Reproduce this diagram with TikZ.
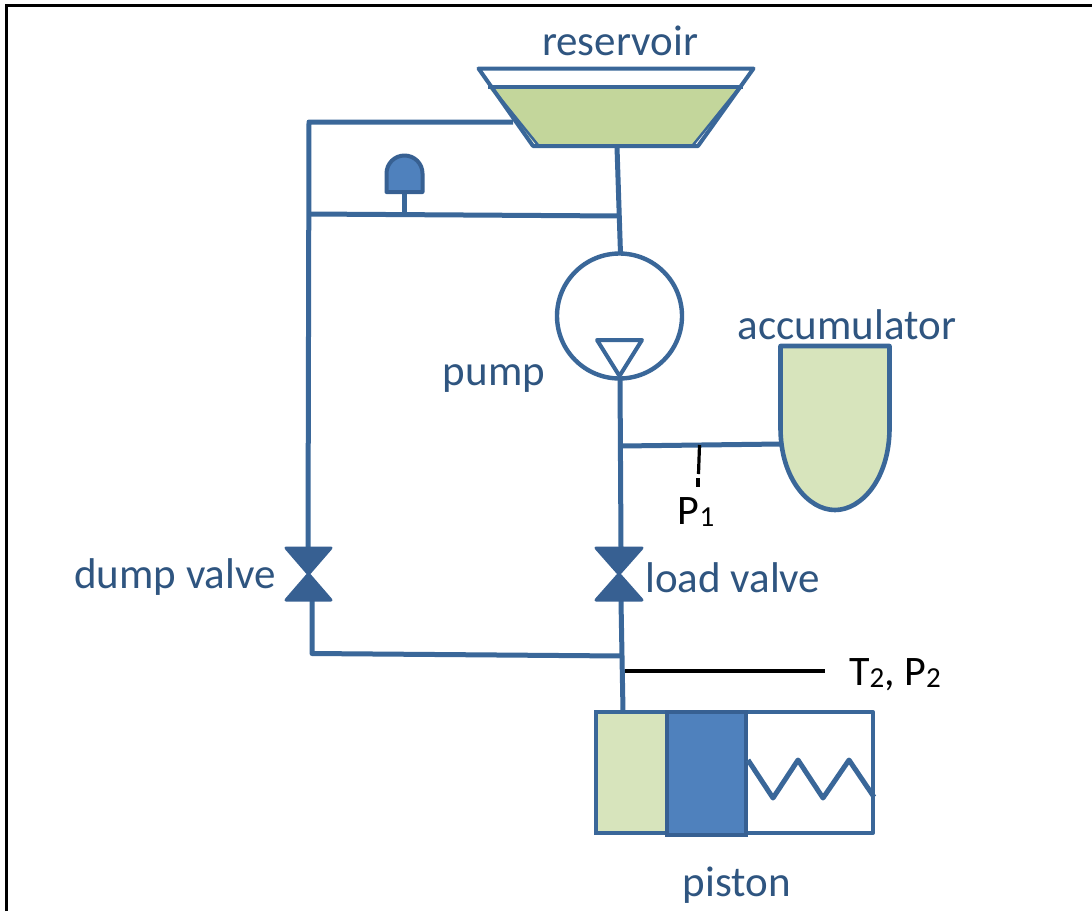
\documentclass[tikz,border=0pt]{standalone}
\usepackage{fontspec}
\setmainfont{Carlito}
\definecolor{pipe}{HTML}{3A6799}
\definecolor{txt}{HTML}{2F5580}
\definecolor{water}{HTML}{C3D69B}
\definecolor{pale}{HTML}{D7E4BC}
\definecolor{solid}{HTML}{4F81BD}
\definecolor{valvec}{HTML}{376092}
\tikzset{
  pipeline/.style={draw=pipe,line width=5pt,line join=round},
  thin pipe/.style={draw=pipe,line width=4pt,line join=round},
  signal/.style={draw=black,line width=3.2pt},
  lab/.style={text=txt,font=\fontsize{43}{46}\selectfont,inner sep=0pt},
  sig lab/.style={text=black,font=\fontsize{42}{46}\selectfont,inner sep=0pt},
  valveshape/.style={fill=valvec,draw=valvec,line width=3pt,line join=round},
}
\newcommand{\lowsub}[1]{\raisebox{-2pt}{\fontsize{29}{32}\selectfont #1}}
\begin{document}
\begin{tikzpicture}[x=1pt,y=-1pt]
\useasboundingbox (0,0) rectangle (1092,911);
\fill[white] (0,0) rectangle (1092,911);
% frame
\draw[black,line width=3pt] (6.5,911) -- (6.5,5.5) -- (1092,5.5);
% junction and end coordinates
\coordinate (resL) at (513,122);
\coordinate (resB) at (617,147);
\coordinate (cornerTL) at (309,122);
\coordinate (jDumpTop) at (309,214);
\coordinate (jPumpIn) at (619.5,216);
\coordinate (pumpTop) at (620.5,254);
\coordinate (pumpOut) at (620,377);
\coordinate (jAcc) at (621,446);
\coordinate (accIn) at (781,444);
\coordinate (jP1) at (699.5,445);
\coordinate (p1A) at (698.5,474);
\coordinate (p1B) at (698,478);
\coordinate (p1C) at (698,487);
\coordinate (cornerBL) at (312,653.5);
\coordinate (jMerge) at (622,656);
\coordinate (jT2) at (625,671);
\coordinate (t2End) at (825,671);
\coordinate (pistonIn) at (623,711);
\coordinate (bellFoot) at (404,214.5);
\coordinate (dumpTop) at (308,548);
\coordinate (dumpBot) at (312,601);
\coordinate (loadTop) at (621,548);
\coordinate (loadBot) at (621,601);
% reservoir
\fill[water] (489,88) -- (740,88) -- (694,145) -- (536,145) -- cycle;
\draw[thin pipe] (478.5,68.5) -- (753.5,68.5) -- (698,146) -- (533,146) -- cycle;
\draw[thin pipe] (488,87) -- (743,87);
\draw[draw=pipe,line width=2.5pt] (492,88) -- (538,145);
\draw[draw=pipe,line width=2.5pt] (739,88) -- (693,145);
\node[lab] (reservoir) at (620,41) {reservoir};
% pipes
\draw[pipeline] (resL) -- (cornerTL) -- (dumpTop);
\draw[pipeline] (jDumpTop) -- (jPumpIn);
\draw[pipeline] (resB) -- (pumpTop);
\draw[pipeline] (pumpOut) -- (loadTop);
\draw[pipeline] (jAcc) -- (accIn);
\draw[pipeline] (loadBot) -- (pistonIn);
\draw[pipeline] (dumpBot) -- (cornerBL) -- (jMerge);
% bell
\draw[pipeline] (bellFoot) -- (404,192);
\draw[draw=valvec,line width=4pt,fill=solid,line join=round]
  (386.5,192) -- (386.5,173.5) arc[start angle=180,end angle=360,x radius=18,y radius=18] -- (422.5,192) -- cycle;
% pump
\node[draw=pipe,line width=4.4pt,fill=none,circle,minimum size=125pt,inner sep=0pt] (pump) at (619.5,316) {};
\draw[thin pipe] (597,340) -- (642,340) -- (619.5,376) -- cycle;
\node[lab] (pumplabel) at (494,379) {pump};
% accumulator
\draw[draw=pipe,line width=4.6pt,fill=pale,line join=round]
  (780.5,346) -- (889.5,346) -- (889.5,428)
  .. controls (889.5,478) and (862,510) .. (835,510)
  .. controls (808,510) and (780.5,478) .. (780.5,428) -- cycle;
\node[lab] (acclabel) at (847,325) {accumulator};
% sensor P1
\draw[signal] (jP1) -- (p1A);
\draw[signal] (p1B) -- (p1C);
\node[sig lab] (p1label) at (696,512) {P\lowsub{1}};
% valves
\draw[valveshape] (286,548) -- (331,548) -- (286,600) -- (331,600) -- cycle;
\node[lab,anchor=east] (dumplabel) at (276,577) {dump valve};
\draw[valveshape] (596,548) -- (642,548) -- (596,600) -- (642,600) -- cycle;
\node[lab,anchor=west] (loadlabel) at (645,578) {load valve};
% T2 P2
\draw[signal] (jT2) -- (t2End);
\node[sig lab,anchor=west] (t2label) at (849,675) {T\lowsub{2}, P\lowsub{2}};
% piston
\draw[draw=pipe,line width=4pt,line join=round,fill=white] (596,712) rectangle (873,833);
\draw[draw=pipe,line width=4pt,fill=pale] (596,712) rectangle (667,833);
\draw[draw=valvec,line width=4pt,fill=solid] (667,712) rectangle (746,834.5);
\draw[pipeline] (748,760) -- (773,798) -- (798,760) -- (823,798) -- (849,760) -- (874,797);
\node[lab] (pistonlabel) at (737,885) {piston};
\end{tikzpicture}
\end{document}
